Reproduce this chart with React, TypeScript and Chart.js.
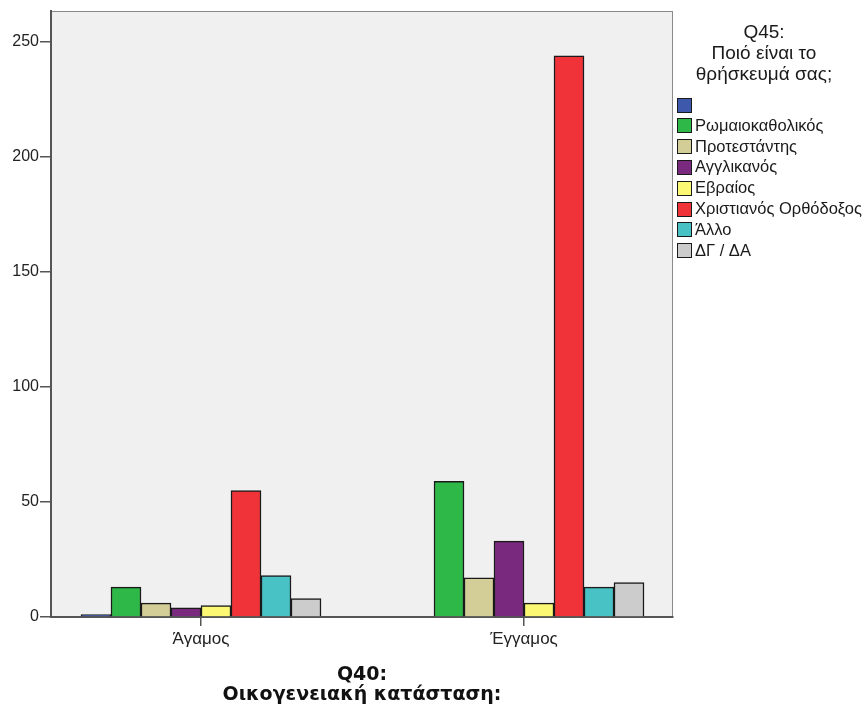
import React, { useEffect, useRef } from "react";
import { Chart, registerables } from "chart.js";

Chart.register(...registerables);

const categories = ["Άγαμος", "Έγγαμος"];
const seriesLabels = [
  "",
  "Ρωμαιοκαθολικός",
  "Προτεστάντης",
  "Αγγλικανός",
  "Εβραίος",
  "Χριστιανός Ορθόδοξος",
  "Άλλο",
  "ΔΓ / ΔΑ",
];
const blankValues = [1, 0];
const romanCatholicValues = [13, 59];
const protestantValues = [6, 17];
const anglicanValues = [4, 33];
const jewishValues = [5, 6];
const orthodoxValues = [55, 244];
const otherValues = [18, 13];
const dknaValues = [8, 15];
const seriesColors = [
  "#3E58AC",
  "#2EB848",
  "#D3CE97",
  "#792A7F",
  "#FBF873",
  "#EF3338",
  "#48C2C5",
  "#CCCCCC",
];
const yTicks = [0, 50, 100, 150, 200, 250];
const legendTitle = ["Q45:", "Ποιό είναι το", "θρήσκευμά σας;"];
const axisTitle = ["Q40:", "Οικογενειακή κατάσταση:"];

const FONT = '"Liberation Sans", Arial, sans-serif';
const BOLD_FONT = '"DejaVu Sans", Verdana, sans-serif';

export default function App() {
  const ref = useRef<HTMLCanvasElement | null>(null);

  useEffect(() => {
    document.body.style.margin = "0";
    const canvas = ref.current;
    if (!canvas) return;
    const allValues = [
      blankValues,
      romanCatholicValues,
      protestantValues,
      anglicanValues,
      jewishValues,
      orthodoxValues,
      otherValues,
      dknaValues,
    ];
    const datasets = allValues.map((vals, i) => ({
      label: seriesLabels[i],
      data: vals.map((v, j) => ({ x: j, y: v })),
      backgroundColor: seriesColors[i],
      borderColor: "#1a1a1a",
      borderWidth: 1.5,
      barThickness: 30,
    }));

    const bgPlugin = {
      id: "plotBg",
      beforeDraw(chart: any) {
        const { ctx, chartArea: a } = chart;
        ctx.save();
        ctx.fillStyle = "#F0F0F0";
        ctx.fillRect(a.left, a.top, a.right - a.left, a.bottom - a.top);
        ctx.strokeStyle = "#8a8a8a";
        ctx.lineWidth = 1;
        ctx.strokeRect(a.left + 0.5, a.top + 0.5, a.right - a.left - 1, a.bottom - a.top);
        ctx.restore();
      },
    };

    const legendPlugin = {
      id: "customLegend",
      afterDraw(chart: any) {
        const { ctx } = chart;
        ctx.save();
        ctx.fillStyle = "#1a1a1a";
        ctx.font = "19px " + FONT;
        ctx.textAlign = "center";
        ctx.textBaseline = "middle";
        legendTitle.forEach((t, i) => ctx.fillText(t, 764, 33 + i * 20.8));
        ctx.font = "16.5px " + FONT;
        ctx.textAlign = "left";
        seriesLabels.forEach((lbl, i) => {
          const y = 104.5 + i * 20.8;
          ctx.fillStyle = seriesColors[i];
          ctx.fillRect(677.5, Math.round(y - 7) + 0.5, 14, 14);
          ctx.strokeStyle = "#1a1a1a";
          ctx.lineWidth = 1;
          ctx.strokeRect(677.5, Math.round(y - 7) + 0.5, 14, 14);
          ctx.fillStyle = "#1a1a1a";
          ctx.fillText(lbl, 695, y + 1);
        });
        ctx.restore();
      },
    };

    const chart = new Chart(canvas, {
      type: "bar",
      data: { datasets },
      options: {
        responsive: false,
        animation: false,
        layout: { padding: { left: 0, top: 11, right: 192, bottom: 0 } },
        plugins: {
          legend: { display: false },
          tooltip: { enabled: false },
        },
        scales: {
          x: {
            type: "linear",
            offset: false,
            min: -0.4644,
            max: 1.4613,
            afterBuildTicks: (scale: any) => {
              scale.ticks = categories.map((_, i) => ({ value: i }));
            },
            afterFit: (scale: any) => {
              scale.height = 91;
            },
            ticks: {
              callback: (v: any) => categories[v as number] ?? "",
              font: { family: FONT, size: 17 },
              color: "#222",
              padding: 3,
              maxRotation: 0,
            },
            grid: {
              offset: false,
              drawOnChartArea: false,
              drawTicks: true,
              tickLength: 9,
              color: "#555",
              lineWidth: 1.5,
            },
            border: { display: true, color: "#555", width: 2 },
            title: {
              display: true,
              text: axisTitle,
              font: { family: BOLD_FONT, size: 19, weight: "bold", lineHeight: 1.1 },
              color: "#111",
              padding: { top: 2, bottom: 2 },
            },
          },
          y: {
            min: 0,
            max: 263.5,
            afterBuildTicks: (scale: any) => {
              scale.ticks = yTicks.map((v) => ({ value: v }));
            },
            afterFit: (scale: any) => {
              scale.width = 51;
            },
            ticks: {
              font: { family: FONT, size: 16 },
              color: "#222",
              padding: 1,
            },
            grid: {
              drawOnChartArea: false,
              drawTicks: true,
              tickLength: 11,
              color: "#555",
              lineWidth: 1.5,
            },
            border: { display: true, color: "#555", width: 2 },
          },
        },
      },
      plugins: [bgPlugin, legendPlugin],
    } as any);

    return () => chart.destroy();
  }, []);

  return (
    <div style={{ width: 865, height: 708 }}>
      <canvas ref={ref} width={865} height={708} />
    </div>
  );
}
